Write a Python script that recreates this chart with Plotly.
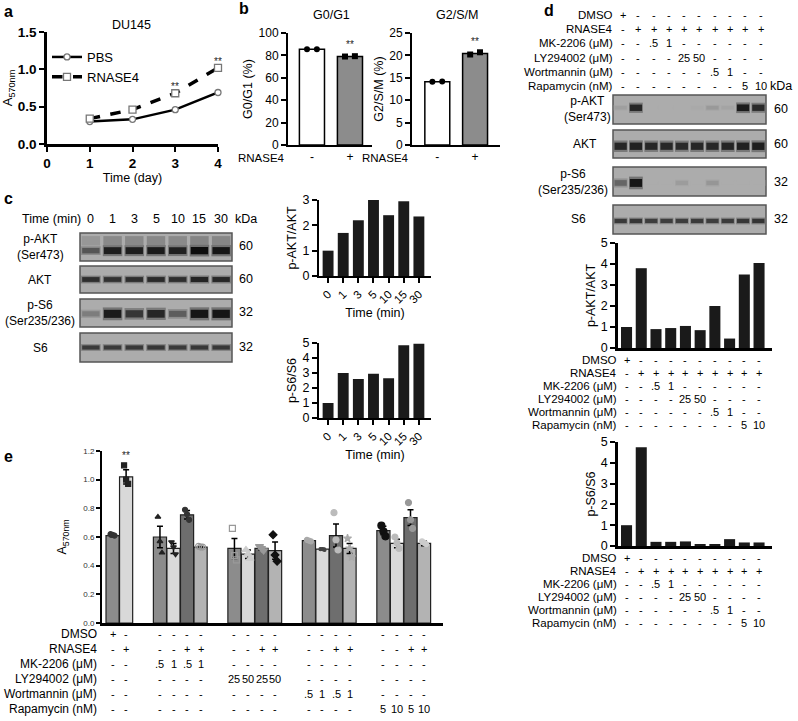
import plotly.graph_objects as go

W, H = 798, 721
FONT = "Liberation Sans, Arial, sans-serif"

# ---------------- data ----------------
# panel a
days = [1, 2, 3, 4]
pbs_a570 = [0.30, 0.33, 0.46, 0.69]
rnase4_a570 = [0.34, 0.46, 0.68, 1.02]
a_sig_index = [2, 3]

# panel b
b_groups = ['-', '+']
g0g1_pct = [85.5, 79.0]
g0g1_pts = [[85.5, 85.6], [79.0, 79.3]]
g2sm_pct = [14.1, 20.4]
g2sm_pts = [[14.1, 14.2], [20.2, 20.7]]

# panel c
c_times = ['0', '1', '3', '5', '10', '15', '30']
c_blot_names = ['p-AKT<br>(Ser473)', 'AKT', 'p-S6<br>(Ser235/236)', 'S6']
c_kda = ['60', '60', '32', '32']
c_pakt_band = [0.55, 0.90, 0.90, 0.92, 0.88, 1.00, 0.95]
c_akt_band = [0.80, 0.78, 0.80, 0.82, 0.80, 0.86, 0.84]
c_ps6_band = [0.30, 0.92, 0.75, 0.85, 0.50, 0.95, 0.95]
c_s6_band = [0.72, 0.72, 0.74, 0.75, 0.72, 0.74, 0.74]
c_pakt_ratio = [1.0, 1.7, 2.2, 3.0, 2.4, 2.95, 2.35]
c_ps6_ratio = [1.0, 3.0, 2.6, 2.95, 2.65, 4.85, 4.95]

# panel d
d_row_names = ['DMSO', 'RNASE4', 'MK-2206 (μM)', 'LY294002 (μM)', 'Wortmannin (μM)', 'Rapamycin (nM)']
d_dmso = ['+', '-', '-', '-', '-', '-', '-', '-', '-', '-']
d_rnase4 = ['-', '+', '+', '+', '+', '+', '+', '+', '+', '+']
d_mk2206 = ['-', '-', '.5', '1', '-', '-', '-', '-', '-', '-']
d_ly294002 = ['-', '-', '-', '-', '25', '50', '-', '-', '-', '-']
d_wortmannin = ['-', '-', '-', '-', '-', '-', '.5', '1', '-', '-']
d_rapamycin = ['-', '-', '-', '-', '-', '-', '-', '-', '5', '10']
d_blot_names = ['p-AKT<br>(Ser473)', 'AKT', 'p-S6<br>(Ser235/236)', 'S6']
d_kda = ['60', '60', '32', '32']
d_pakt_band = [0.08, 0.85, 0.0, 0.0, 0.0, 0.02, 0.12, 0.05, 0.92, 0.82]
d_akt_band = [0.85, 0.88, 0.84, 0.84, 0.82, 0.85, 0.84, 0.86, 0.88, 0.90]
d_ps6_band = [0.45, 0.95, 0.0, 0.0, 0.10, 0.0, 0.14, 0.0, 0.0, 0.0]
d_s6_band = [0.72, 0.75, 0.70, 0.70, 0.70, 0.72, 0.70, 0.72, 0.74, 0.76]
d_pakt_ratio = [1.0, 3.8, 0.9, 0.95, 1.05, 0.85, 2.0, 0.45, 3.5, 4.05]
d_ps6_ratio = [1.0, 4.75, 0.2, 0.2, 0.22, 0.08, 0.08, 0.33, 0.17, 0.17]

# panel e
e_group_sizes = [2, 4, 4, 4, 4]
e_mean = [0.61, 1.02, 0.60, 0.52, 0.755, 0.53, 0.52, 0.48, 0.52, 0.505,
          0.575, 0.515, 0.61, 0.52, 0.645, 0.555, 0.735, 0.555]
e_sem = [0.008, 0.05, 0.075, 0.035, 0.03, 0.004, 0.07, 0.03, 0.012, 0.06,
         0.005, 0.006, 0.08, 0.035, 0.03, 0.03, 0.055, 0.016]
e_points = [[0.62, 0.615, 0.61], [1.10, 1.00, 0.97],
            [0.74, 0.57, 0.49], [0.565, 0.53, 0.48], [0.79, 0.76, 0.72], [0.535, 0.53, 0.53],
            [0.66, 0.47, 0.44], [0.51, 0.48, 0.45], [0.535, 0.52, 0.505], [0.615, 0.475, 0.43],
            [0.58, 0.575, 0.57], [0.515, 0.515, 0.51], [0.77, 0.58, 0.51], [0.59, 0.52, 0.46],
            [0.68, 0.64, 0.605], [0.60, 0.56, 0.52], [0.84, 0.72, 0.66], [0.57, 0.56, 0.55]]
e_row_names = ['DMSO', 'RNASE4', 'MK-2206 (μM)', 'LY294002 (μM)', 'Wortmannin (μM)', 'Rapamycin (nM)']
e_dmso = ['+', '-', '-', '-', '-', '-', '-', '-', '-', '-', '-', '-', '-', '-', '-', '-', '-', '-']
e_rnase4 = ['-', '+', '-', '-', '+', '+', '-', '-', '+', '+', '-', '-', '+', '+', '-', '-', '+', '+']
e_mk2206 = ['-', '-', '.5', '1', '.5', '1', '-', '-', '-', '-', '-', '-', '-', '-', '-', '-', '-', '-']
e_ly294002 = ['-', '-', '-', '-', '-', '-', '25', '50', '25', '50', '-', '-', '-', '-', '-', '-', '-', '-']
e_wortmannin = ['-', '-', '-', '-', '-', '-', '-', '-', '-', '-', '.5', '1', '.5', '1', '-', '-', '-', '-']
e_rapamycin = ['-', '-', '-', '-', '-', '-', '-', '-', '-', '-', '-', '-', '-', '-', '5', '10', '5', '10']
e_sig_index = [1]

# ---------------- helpers ----------------
layout = dict(width=W, height=H, margin=dict(l=0, r=0, t=0, b=0), template='none',
              paper_bgcolor='white', plot_bgcolor='rgba(0,0,0,0)', barmode='overlay',
              font=dict(family=FONT, size=12, color='black'), showlegend=True)
annotations = []
shapes = []
traces = []


def xd(x0, x1):
    return [x0 / W, x1 / W]


def yd(y0, y1):
    return [1 - y1 / H, 1 - y0 / H]


def px(x):
    return x / W


def py(y):
    return 1 - y / H


AX = dict(showline=True, linecolor='black', linewidth=2, ticks='outside', ticklen=5, tickwidth=2,
          tickcolor='black', showgrid=False, zeroline=False,
          tickfont=dict(size=12, family=FONT, color='black'))


def set_axes(k, xdom, ydom, xa, ya):
    xk = 'xaxis' if k == 1 else f'xaxis{k}'
    yk = 'yaxis' if k == 1 else f'yaxis{k}'
    xr = 'x' if k == 1 else f'x{k}'
    yr = 'y' if k == 1 else f'y{k}'
    layout[xk] = {**AX, 'domain': xdom, 'anchor': yr, **xa}
    layout[yk] = {**AX, 'domain': ydom, 'anchor': xr, **ya}
    return xr, yr


def text(x, y, s, size=12, xref='paper', yref='paper', xanchor='center', yanchor='middle', bold=False,
         color='black'):
    annotations.append(dict(x=x, y=y, xref=xref, yref=yref, text=s, showarrow=False,
                            xanchor=xanchor, yanchor=yanchor, borderpad=0,
                            font=dict(size=size, family=FONT, color=color,
                                      weight='bold' if bold else 'normal')))


BLOT_BG = '#acacac'


def blot(k, x0, x1, y0, y1, inten, center, thick, smear=None):
    n = len(inten)
    xr, yr = set_axes(k, xd(x0, x1), yd(y0, y1),
                      dict(visible=False, range=[-0.5, n - 0.5], fixedrange=True),
                      dict(visible=False, range=[0, 1], fixedrange=True))
    shapes.append(dict(type='rect', xref=f'{xr} domain', yref=f'{yr} domain', x0=0, x1=1, y0=0, y1=1,
                       fillcolor=BLOT_BG, line=dict(color='#555555', width=1.5), layer='below'))
    lanes = list(range(n))
    if smear is not None:
        sv = [v * 0.25 for v in inten]
        traces.append(go.Bar(x=lanes, y=[thick * 1.3] * n, base=[smear - thick * 0.65] * n, width=0.85,
                             marker=dict(color=sv, colorscale=[[0, BLOT_BG], [1, '#101010']], cmin=0, cmax=1,
                                         line=dict(width=0)),
                             xaxis=xr, yaxis=yr, showlegend=False, hoverinfo='skip'))
    hh = [thick * (0.45 + 0.55 * v) * 1.6 for v in inten]
    traces.append(go.Bar(x=lanes, y=hh, base=[center - v / 2 for v in hh], width=0.9,
                         marker=dict(color=inten, colorscale=[[0, BLOT_BG], [1, '#707070']], cmin=0, cmax=1,
                                     line=dict(width=0)),
                         xaxis=xr, yaxis=yr, showlegend=False, hoverinfo='skip'))
    h = [thick * (0.45 + 0.55 * v) for v in inten]
    traces.append(go.Bar(x=lanes, y=h, base=[center - v / 2 for v in h], width=0.8,
                         marker=dict(color=inten, colorscale=[[0, BLOT_BG], [1, '#0e0e0e']], cmin=0, cmax=1,
                                     line=dict(width=0)),
                         xaxis=xr, yaxis=yr, showlegend=False, hoverinfo='skip'))
    return xr, yr


# ---------------- panel letters ----------------
for s, x, y in [('a', 8, 12), ('b', 244, 9), ('c', 8, 198), ('d', 549, 11), ('e', 8, 456)]:
    text(px(x), py(y), s, size=16, bold=True)

# ---------------- panel a ----------------
bold13 = dict(size=13.5, family=FONT, color='black', weight='bold')
xr, yr = set_axes(1, xd(47, 218), yd(32, 144),
                  dict(range=[0, 4], tickvals=[0, 1, 2, 3, 4], tickfont=bold13, linewidth=2.5,
                       title=dict(text='Time (day)', font=dict(size=12.5), standoff=2)),
                  dict(range=[0, 1.5], tickvals=[0, 0.5, 1.0, 1.5], tickformat='.1f', tickfont=bold13,
                       linewidth=2.5, title=dict(text='A<sub>570nm</sub>', font=dict(size=13), standoff=4)))
traces.append(go.Scatter(x=days, y=pbs_a570, mode='lines+markers', name='PBS', xaxis=xr, yaxis=yr,
                         line=dict(color='black', width=2.5),
                         marker=dict(symbol='circle', size=6, color='white', line=dict(color='#777777', width=1.3)),
                         cliponaxis=False))
traces.append(go.Scatter(x=days, y=rnase4_a570, mode='lines+markers', name='RNASE4', xaxis=xr, yaxis=yr,
                         line=dict(color='black', width=3.5, dash='dash'),
                         marker=dict(symbol='square', size=7, color='white', line=dict(color='#777777', width=1.3)),
                         cliponaxis=False))
for i in a_sig_index:
    text(days[i], rnase4_a570[i] + 0.09, '**', size=10, xref=xr, yref=yr, color='#222222')
text(px(131), py(25), 'DU145', size=12.5)
layout['legend'] = dict(x=px(47), y=py(42), xanchor='left', yanchor='top', font=dict(size=13, family=FONT),
                        bgcolor='rgba(0,0,0,0)', itemwidth=30, tracegroupgap=0)

# ---------------- panel b ----------------
for k, (x0, x1, xrng, vals, pts, ytitle, yrng, dt, ttl, tx) in enumerate([
        (288, 372, [-0.63, 1.58], g0g1_pct, g0g1_pts, 'G0/G1 (%)', [0, 100], 20, 'G0/G1', 331),
        (412, 500, [-0.67, 1.66], g2sm_pct, g2sm_pts, 'G2/S/M (%)', [0, 25], 5, 'G2/S/M', 457)]):
    xr, yr = set_axes(2 + k, xd(x0, x1), yd(33, 145),
                      dict(range=xrng, tickvals=[0, 1], ticktext=b_groups, ticks='', fixedrange=True),
                      dict(range=yrng, dtick=dt, title=dict(text=ytitle, font=dict(size=12.5), standoff=3)))
    traces.append(go.Bar(x=[0, 1], y=vals, width=0.66, xaxis=xr, yaxis=yr, showlegend=False,
                         marker=dict(color=['white', '#8c8c8c'], line=dict(color='black', width=1.5))))
    for j, sym in enumerate(['circle', 'square']):
        traces.append(go.Scatter(x=[j - 0.13, j + 0.13], y=pts[j], mode='markers', xaxis=xr, yaxis=yr,
                                 showlegend=False, cliponaxis=False,
                                 marker=dict(symbol=sym, size=6, color='black')))
    text(1, vals[1] + (yrng[1] * 0.11), '**', size=10, xref=xr, yref=yr, color='#222222')
    text(px(tx), py(15), ttl, size=12.5)
    text(px(x0 - 2), py(158), 'RNASE4', size=11.5, xanchor='right')

# ---------------- panel c blots ----------------
c_boxes = [(233, 261), (266, 293), (299, 327), (333, 362)]
c_bands = [c_pakt_band, c_akt_band, c_ps6_band, c_s6_band]
c_centers = [0.37, 0.5, 0.47, 0.5]
c_thick = [0.26, 0.2, 0.3, 0.17]
for i in range(4):
    y0, y1 = c_boxes[i]
    xr, yr = blot(4 + i, 80, 232, y0, y1, c_bands[i], c_centers[i], c_thick[i],
                  smear=0.72 if i == 0 else None)
    text(px(40), py((y0 + y1) / 2), c_blot_names[i], size=12)
    text(px(246), py((y0 + y1) / 2 - 1), c_kda[i], size=12.5)
    if i == 0:
        for j, t in enumerate(c_times):
            text(j, py(219), t, size=12.5, xref=xr)
        text(px(82), py(219), 'Time (min)', size=12.5, xanchor='right')
        text(px(234), py(219), 'kDa', size=12.5, xanchor='left')

# ---------------- panel c bars ----------------
for k, (y0, y1, vals, ytitle, yr_max) in enumerate([(200, 276, c_pakt_ratio, 'p-AKT/AKT', 3),
                                                    (343, 418, c_ps6_ratio, 'p-S6/S6', 5)]):
    xr, yr = set_axes(8 + k, xd(319, 431), yd(y0, y1),
                      dict(range=[-0.6, 6.8], tickvals=list(range(7)), ticktext=c_times, tickangle=-45,
                           tickfont=dict(size=11.5, family=FONT),
                           title=dict(text='Time (min)', font=dict(size=12.5), standoff=2)),
                      dict(range=[0, yr_max], dtick=1, tickfont=dict(size=12.5, family=FONT),
                           title=dict(text=ytitle, font=dict(size=12.5), standoff=3)))
    traces.append(go.Bar(x=list(range(7)), y=vals, width=0.72, xaxis=xr, yaxis=yr, showlegend=False,
                         marker=dict(color='#1a1a1a', line=dict(width=0))))

# ---------------- panel d blots ----------------
d_boxes = [(95, 124), (130, 158), (167, 196), (205, 234)]
d_bands = [d_pakt_band, d_akt_band, d_ps6_band, d_s6_band]
d_centers = [0.56, 0.42, 0.45, 0.45]
d_thick = [0.24, 0.28, 0.28, 0.17]
d_label_x = [587, 585, 573, 578]
d_rows = [d_dmso, d_rnase4, d_mk2206, d_ly294002, d_wortmannin, d_rapamycin]
for i in range(4):
    y0, y1 = d_boxes[i]
    xr, yr = blot(10 + i, 613, 766, y0, y1, d_bands[i], d_centers[i], d_thick[i])
    text(px(d_label_x[i]), py((y0 + y1) / 2), d_blot_names[i], size=12)
    text(px(781), py((y0 + y1) / 2), d_kda[i], size=12.5)
    if i == 0:
        for r, (name, row) in enumerate(zip(d_row_names, d_rows)):
            yy = py(15 + r * 14.2)
            text(px(614), yy, name, size=11.5, xanchor='right')
            for j, v in enumerate(row):
                text(j + 0.15, yy, v, size=11, xref=xr)
        text(px(781), py(86), 'kDa', size=12.5)

# ---------------- panel d bars ----------------
for k, (y0, y1, vals, ytitle, row_y) in enumerate([(243, 348, d_pakt_ratio, 'p-AKT/AKT', 360),
                                                    (442, 546, d_ps6_ratio, 'p-S6/S6', 558)]):
    xr, yr = set_axes(14 + k, xd(618, 772), yd(y0, y1),
                      dict(range=[-0.58, 9.88], showticklabels=False, ticks='', linewidth=2.5),
                      dict(range=[0, 5], dtick=1, linewidth=2.5, tickfont=dict(size=12.5, family=FONT),
                           title=dict(text=ytitle, font=dict(size=12.5), standoff=3)))
    traces.append(go.Bar(x=list(range(10)), y=vals, width=0.75, xaxis=xr, yaxis=yr, showlegend=False,
                         marker=dict(color='#1a1a1a', line=dict(width=0))))
    for r, (name, row) in enumerate(zip(d_row_names, d_rows)):
        yy = py(row_y + r * 12.9)
        text(px(618), yy, name, size=11.5, xanchor='right')
        for j, v in enumerate(row):
            text(j, yy, v, size=11, xref=xr)

# ---------------- panel e ----------------
e_pos = []
start = 0.0
for g in e_group_sizes:
    e_pos += [start + i for i in range(g)]
    start += g + 1.5
e_palette = ['#8c8c8c', '#d9d9d9', '#6e6e6e', '#b3b3b3']
e_colors = []
for g in e_group_sizes:
    e_colors += e_palette[:g]
xr, yr = set_axes(16, xd(102, 443), yd(451, 623),
                  dict(range=[-0.78, 24.4], showticklabels=False, ticks='', linewidth=2.5),
                  dict(range=[0, 1.2], tickvals=[0, 0.2, 0.4, 0.6, 0.8, 1.0, 1.2], tickformat='.1f',
                       tickfont=dict(size=8, family=FONT, color='#333333'), ticklen=4, tickwidth=1.5,
                       title=dict(text='A<sub>570nm</sub>', font=dict(size=12.5), standoff=14)))
traces.append(go.Bar(x=e_pos, y=e_mean, width=0.97, xaxis=xr, yaxis=yr, showlegend=False,
                     marker=dict(color=e_colors, line=dict(color='#222222', width=1.2)),
                     error_y=dict(type='data', array=e_sem, color='black', thickness=1.5, width=3)))
e_styles = [('circle', '#333333', 5), ('square', '#222222', 5),
            ('triangle-up', '#222222', 5), ('triangle-down', '#222222', 5), ('circle', '#333333', 5),
            ('circle-open', '#999999', 6),
            ('square-open', '#999999', 6), ('triangle-up', '#cccccc', 7), ('triangle-down', '#999999', 7),
            ('diamond', '#111111', 6),
            ('circle', '#aaaaaa', 5), ('circle', '#444444', 3), ('circle', '#bbbbbb', 6), ('star', '#aaaaaa', 6),
            ('circle', '#111111', 7), ('circle', '#bbbbbb', 6), ('circle', '#999999', 6), ('circle', '#cccccc', 5)]
for i, pts in enumerate(e_points):
    sym, col, sz = e_styles[i]
    traces.append(go.Scatter(x=[e_pos[i] - 0.15, e_pos[i], e_pos[i] + 0.15], y=pts, mode='markers',
                             xaxis=xr, yaxis=yr, showlegend=False, cliponaxis=False,
                             marker=dict(symbol=sym, size=sz, color=col, line=dict(width=1.2, color=col))))
for i in e_sig_index:
    text(e_pos[i], e_mean[i] + 0.15, '**', size=10, xref=xr, yref=yr, color='#222222')
e_rows = [e_dmso, e_rnase4, e_mk2206, e_ly294002, e_wortmannin, e_rapamycin]
for r, (name, row) in enumerate(zip(e_row_names, e_rows)):
    yy = py(634 + r * 15)
    text(px(98), yy, name, size=12, xanchor='right')
    for j, v in enumerate(row):
        text(e_pos[j], yy, v, size=11, xref=xr)

layout['annotations'] = annotations
layout['shapes'] = shapes
fig = go.Figure(data=traces, layout=layout)
fig.write_html("out.html", config={'displayModeBar': False},
               post_script="document.body.style.margin='0px'; document.body.style.overflow='hidden';")
